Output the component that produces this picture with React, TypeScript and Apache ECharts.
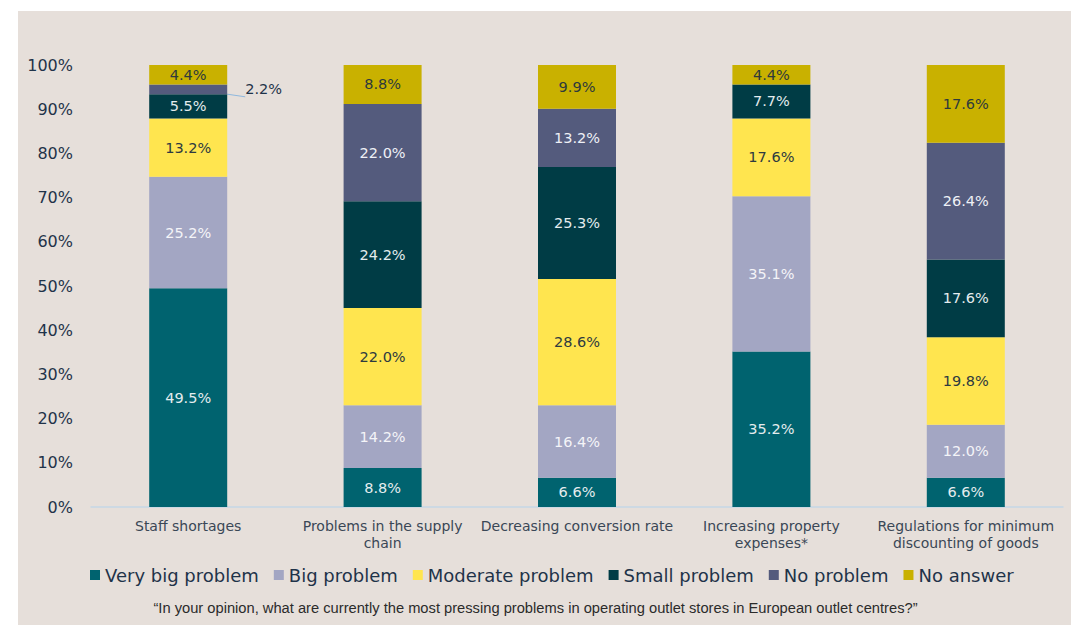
import React, { useEffect, useRef } from "react";
import * as echarts from "echarts";

const categories = [
  "Staff shortages",
  "Problems in the supply\nchain",
  "Decreasing conversion rate",
  "Increasing property\nexpenses*",
  "Regulations for minimum\ndiscounting of goods",
];
const seriesNames = ["Very big problem", "Big problem", "Moderate problem", "Small problem", "No problem", "No answer"];
const veryBig = [49.5, 8.8, 6.6, 35.2, 6.6];
const big = [25.2, 14.2, 16.4, 35.1, 12.0];
const moderate = [13.2, 22.0, 28.6, 17.6, 19.8];
const small = [5.5, 24.2, 25.3, 7.7, 17.6];
const noProblem = [2.2, 22.0, 13.2, 0, 26.4];
const noAnswer = [4.4, 8.8, 9.9, 4.4, 17.6];
const yTicks = [0, 10, 20, 30, 40, 50, 60, 70, 80, 90, 100];

const colors = ["#00636f", "#a3a6c3", "#ffe54f", "#003c45", "#545b7d", "#c9b100"];
const labelColors = ["#e4ecee", "#f4f4f8", "#2e3a40", "#e4ecee", "#eef0f6", "#2e3a3c"];
const FONT = "'DejaVu Sans', sans-serif";

export default function App() {
  const ref = useRef<HTMLDivElement>(null);
  useEffect(() => {
    if (!ref.current) return;
    const chart = echarts.init(ref.current, undefined, { renderer: "svg" });
    const all = [veryBig, big, moderate, small, noProblem, noAnswer];
    const series = all.map((arr, si) => ({
      name: seriesNames[si],
      type: "bar",
      stack: "total",
      barWidth: 78,
      itemStyle: { color: colors[si] },
      label: {
        show: true,
        position: "inside",
        color: labelColors[si],
        fontFamily: FONT,
        fontSize: 14.5,
        formatter: (p: any) => (p.value > 3 ? p.value.toFixed(1) + "%" : ""),
      },
      data: arr.map((v, ci) => {
        if (si === 4 && ci === 0) {
          return {
            value: v,
            label: {
              show: true,
              position: "right",
              distance: 18,
              color: "#1f3349",
              fontSize: 14.5,
              fontFamily: FONT,
              formatter: (p: any) => p.value.toFixed(1) + "%",
            },
            labelLine: { show: true, lineStyle: { color: "#8fb8de", width: 1 } },
          };
        }
        return v;
      }),
      labelLine: { show: false },
    }));
    chart.setOption({
      animation: false,
      backgroundColor: "#ffffff",
      graphic: [
        { type: "rect", left: 18, top: 11, shape: { width: 1060, height: 620 }, style: { fill: "#e6dfda" }, z: -10 },
        {
          type: "text",
          left: "center",
          top: 600,
          style: {
            text: "\u201cIn your opinion, what are currently the most pressing problems in operating outlet stores in European outlet centres?\u201d",
            fontFamily: "'Liberation Sans Narrow', 'Liberation Sans', sans-serif",
            fontSize: 14.7,
            fill: "#2b2b2b",
          },
        },
      ],
      grid: { left: 91, right: 8, top: 65, bottom: 118 },
      legend: {
        left: 85,
        top: 561,
        itemWidth: 10,
        itemHeight: 10,
        itemGap: 15,
        icon: "rect",
        textStyle: { fontFamily: FONT, fontSize: 18, color: "#1f3349" },
        data: seriesNames,
      },
      xAxis: {
        type: "category",
        data: categories,
        axisLine: { lineStyle: { color: "#c5d7e6", width: 1.5 } },
        axisTick: { show: false },
        axisLabel: { fontFamily: FONT, fontSize: 14, color: "#3a4756", margin: 10, lineHeight: 17, interval: 0 },
      },
      yAxis: {
        type: "value",
        min: 0,
        max: 100,
        interval: 10,
        splitLine: { show: false },
        axisLine: { show: false },
        axisTick: { show: false },
        axisLabel: {
          fontFamily: FONT,
          fontSize: 16,
          color: "#1f3349",
          margin: 18,
          formatter: (v: number) => (yTicks.includes(v) ? v + "%" : ""),
        },
      },
      series,
    });
    return () => chart.dispose();
  }, []);
  return (
    <div style={{ position: "fixed", left: 0, top: 0, width: 1071, height: 625 }}>
      <div ref={ref} style={{ width: 1071, height: 625 }} />
    </div>
  );
}
